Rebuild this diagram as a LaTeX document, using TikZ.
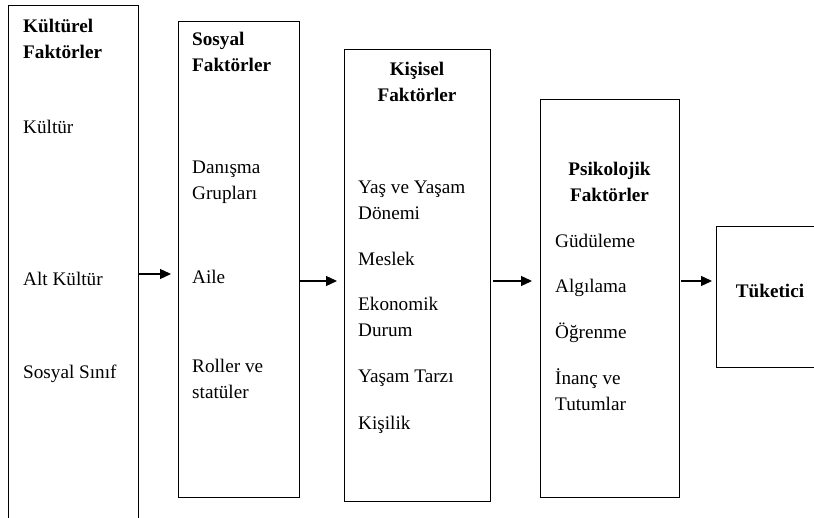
\documentclass[tikz,border=0pt]{standalone}
\usepackage{fontspec}
\setmainfont{Liberation Serif}
\usetikzlibrary{arrows.meta}
\tikzset{
  kutu/.style={draw, line width=1.2pt, inner sep=0pt, anchor=north west},
  yazi/.style={anchor=base west, inner sep=0pt, align=left, font=\fontsize{19.2}{25.5}\selectfont},
  baslik/.style={yazi, font=\fontsize{19.2}{25.5}\selectfont\bfseries},
  ortabaslik/.style={baslik, anchor=base, align=center},
  ok/.style={-{Triangle[length=11pt,width=10pt]}, line width=1.3pt},
}
\begin{document}
\begin{tikzpicture}[x=1pt,y=-1pt]
\clip (0,0) rectangle (814,518);
\node[kutu, minimum width=130pt, minimum height=545pt] (kultur) at (8,5) {};
\node[kutu, minimum width=121pt, minimum height=476pt] (sosyal) at (178,21) {};
\node[kutu, minimum width=146pt, minimum height=452pt] (kisisel) at (344,49) {};
\node[kutu, minimum width=139pt, minimum height=398pt] (psiko) at (540,99) {};
\node[kutu, minimum width=110pt, minimum height=141pt] (tuketici) at (716,226) {};
\node[baslik] (kb) at (23,58.5) {Kültürel\\Faktörler};
\node[yazi] (k1) at (23,134) {Kültür};
\node[yazi] (k2) at (23,286) {Alt Kültür};
\node[yazi] (k3) at (23,379) {Sosyal Sınıf};
\node[baslik] (sb) at (192,71.5) {Sosyal\\Faktörler};
\node[yazi] (s1) at (192,199.5) {Danışma\\Grupları};
\node[yazi] (s2) at (192,284) {Aile};
\node[yazi] (s3) at (192,398.5) {Roller ve\\statüler};
\node[ortabaslik] (ib) at (417,101.5) {Kişisel\\Faktörler};
\node[yazi] (i1) at (358,219.5) {Yaş ve Yaşam\\Dönemi};
\node[yazi] (i2) at (358,266) {Meslek};
\node[yazi] (i3) at (358,336.5) {Ekonomik\\Durum};
\node[yazi] (i4) at (358,383) {Yaşam Tarzı};
\node[yazi] (i5) at (358,429) {Kişilik};
\node[ortabaslik] (pb) at (609.5,201.5) {Psikolojik\\Faktörler};
\node[yazi] (p1) at (555,248) {Güdüleme};
\node[yazi] (p2) at (555,293) {Algılama};
\node[yazi] (p3) at (555,339) {Öğrenme};
\node[yazi, font=\fontsize{19.2}{27}\selectfont] (p4) at (555,411) {İnanç ve\\Tutumlar};
\node[ortabaslik] (tb) at (770,298) {Tüketici};
\draw[ok, shorten >=7pt] (kultur.east |- 0,274) -- (sosyal.west |- 0,274);
\draw[ok, shorten >=7pt] (sosyal.east |- 0,281) -- (kisisel.west |- 0,281);
\draw[ok, shorten <=2pt, shorten >=8pt] (kisisel.east |- 0,281) -- (psiko.west |- 0,281);
\draw[ok, shorten <=1pt, shorten >=4pt] (psiko.east |- 0,281) -- (tuketici.west |- 0,281);
\end{tikzpicture}
\end{document}
